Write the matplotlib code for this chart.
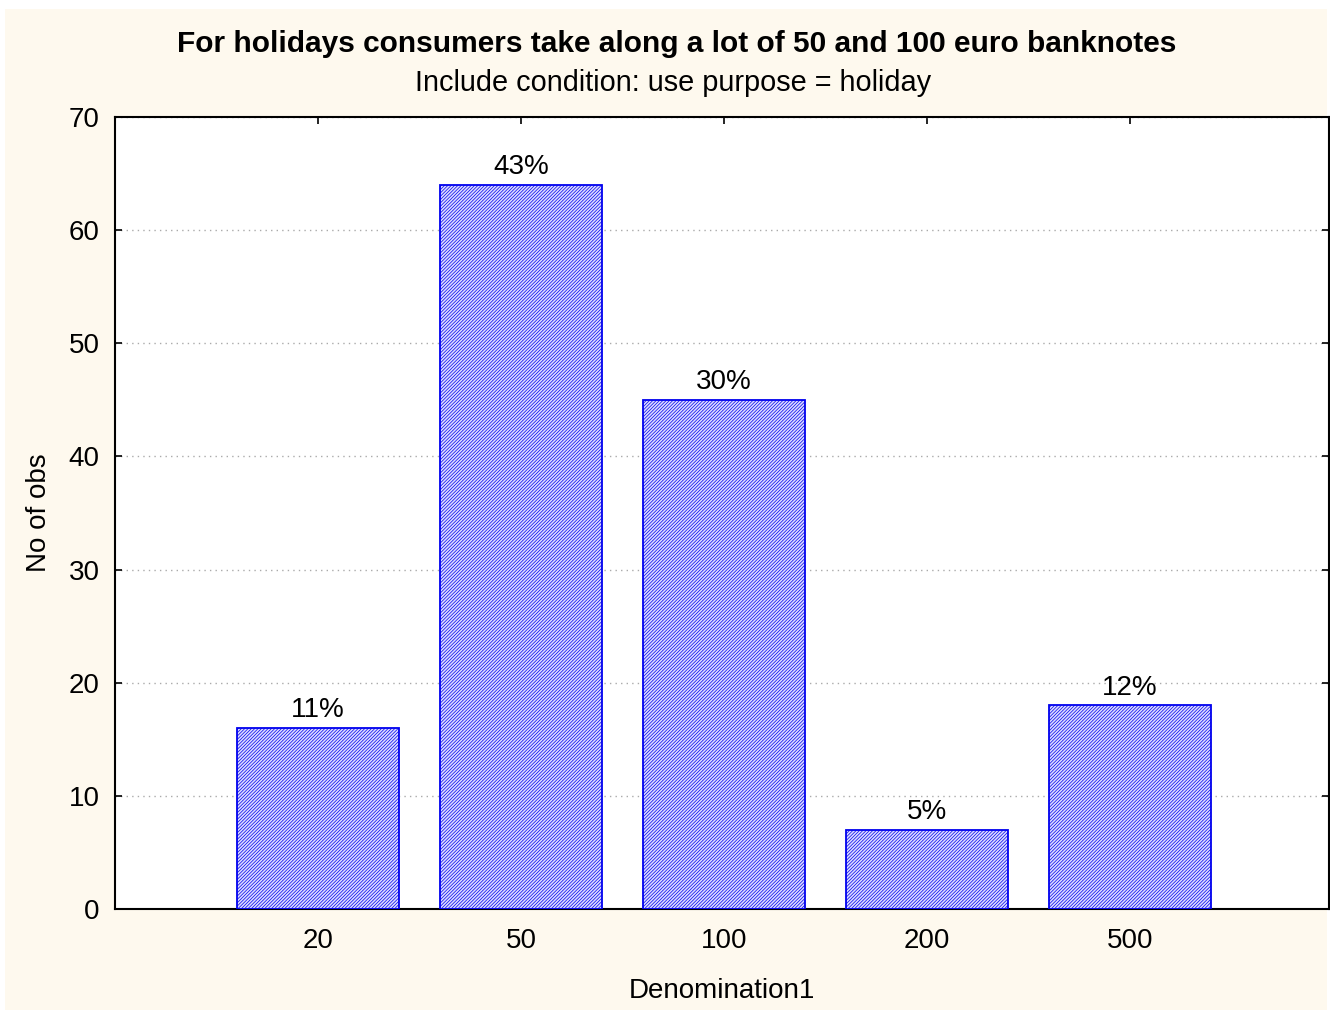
import numpy as np
import matplotlib.pyplot as plt
import matplotlib as mpl

plt.rcParams['font.family'] = ['Liberation Sans', 'DejaVu Sans']
mpl.rcParams['hatch.linewidth'] = 0.5
mpl.rcParams['hatch.color'] = '#6060ff'

denominations = ['20', '50', '100', '200', '500']
counts = [16, 64, 45, 7, 18]
shares = ['11%', '43%', '30%', '5%', '12%']

W, H = 1330, 1013
fig = plt.figure(figsize=(W / 100, H / 100), dpi=100)
fig.patch.set_facecolor('white')

# cream panel behind the chart
panel = plt.Rectangle((5 / W, 3 / H), 1 - 8 / W, 1 - 12 / H,
                      transform=fig.transFigure, facecolor='#fef9ee',
                      edgecolor='none', zorder=-10)
fig.patches.append(panel)

ax = fig.add_axes([115 / W, 1 - 909 / H, (1329 - 115) / W, (909 - 117) / H])
ax.set_facecolor('white')

x = np.arange(len(denominations))
ax.bar(x, counts, width=0.8, facecolor='#dcdcff', edgecolor='#0000ee',
       linewidth=1.3, hatch='//////////', zorder=3)

for xi, c, s in zip(x, counts, shares):
    ax.text(xi, c + 0.4, s, ha='center', va='bottom', fontsize=20, zorder=4)

ax.set_xlim(-1, 4.98)
ax.set_ylim(0, 70)
ax.set_xticks(x)
ax.set_xticklabels(denominations)
ax.set_yticks(np.arange(0, 71, 10))
ax.tick_params(axis='both', direction='in', labelsize=20, length=5, width=1.2,
               top=True, right=True)
ax.tick_params(axis='x', pad=14)
ax.tick_params(axis='y', pad=11)
ax.yaxis.grid(True, linestyle=(0, (1, 3)), color='#aaaaaa', linewidth=1)
ax.set_axisbelow(True)
for side in ['top', 'bottom', 'left', 'right']:
    ax.spines[side].set_linewidth(1.5)

ax.set_xlabel('Denomination1', fontsize=20, labelpad=17)
ax.set_ylabel('No of obs', fontsize=20, labelpad=12)

fig.text(677 / W, 1 - 44 / H,
         'For holidays consumers take along a lot of 50 and 100 euro banknotes',
         ha='center', va='center', fontsize=21.5, fontweight='bold')
fig.text(673 / W, 1 - 83 / H, 'Include condition: use purpose = holiday',
         ha='center', va='center', fontsize=20.8)

fig.savefig('out.png', dpi=100, facecolor=fig.get_facecolor())
